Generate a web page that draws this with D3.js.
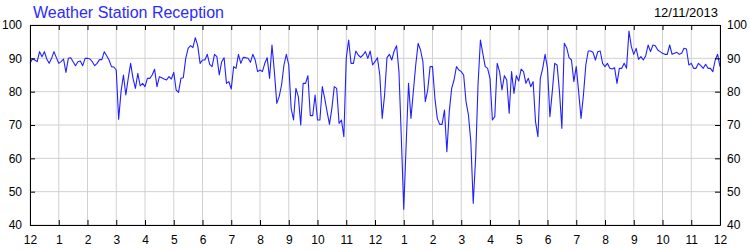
<!DOCTYPE html>
<html>
<head>
<meta charset="utf-8">
<script src="https://cdn.jsdelivr.net/npm/d3@7"></script>
<style>
	body { margin: 0; background: #fff; }
	text { font-family: "Liberation Sans", Arial, sans-serif; }
</style>
</head>
<body>
<svg id="chart" width="750" height="250"></svg>
<script>
const chartTitle = "Weather Station Reception";
const dateLabel = "12/11/2013";
const startTime = new Date(2013, 11, 11, 0, 0);
const endTime = new Date(2013, 11, 12, 0, 0);
const sampleMinutes = 5;
const yTicks = [40, 50, 60, 70, 80, 90, 100];

// reception %, one reading every 5 minutes from midnight to midnight
const reception = [
	88.5, 89.8, 89.5, 89, 92, 90.5, 92, 89.8, 88.5, 90, 92, 90.2,
	88.5, 89, 89.8, 85.8, 90, 90.2, 89, 87.8, 89, 89.2, 87.8, 90,
	90, 89.8, 89, 87.8, 88.5, 89.6, 89.6, 92, 90.8, 89.5, 87.5, 87.4,
	86.5, 71.7, 80, 85, 79, 84, 88.5, 84, 81, 85.5, 81.7, 82.5,
	81.5, 84, 84, 85, 86.7, 81.5, 84.5, 84.2, 83.8, 83.5, 84.5, 83.8,
	85.8, 80.5, 79.8, 84, 84.2, 90, 93, 93.8, 93.2, 96.2, 93.8, 88.5,
	89.5, 89.5, 91.2, 88.2, 87.5, 91.2, 90.5, 85, 89, 90.2, 82.5, 83,
	80.8, 87.5, 87, 91.2, 88.5, 90.3, 90.2, 90, 88.8, 91.2, 89.5, 86,
	86.5, 86, 88.5, 90.2, 84, 94, 86, 76.5, 78.5, 82, 88, 91.2,
	88, 75, 71.5, 81, 78.5, 70, 82.5, 82.5, 84.8, 72.8, 72.8, 79,
	71.5, 71.5, 81.5, 78, 74, 70.2, 75, 81.5, 81, 70.5, 71.5, 66.5,
	90, 95.5, 88.5, 88.5, 92.2, 91, 90.3, 91, 92, 90, 92.2, 88,
	89, 90.2, 85, 72, 79, 90.2, 91.2, 89.5, 92.2, 93.8, 86, 66,
	44.7, 64, 82.5, 72, 80, 88, 94.5, 92.5, 89, 77, 80.5, 87.5,
	87.5, 78, 72, 70.2, 70.2, 74.5, 62, 74, 81, 83.5, 87.5, 86.5,
	86, 85, 77, 73, 65, 46.5, 60, 82, 95.5, 91.5, 87.5, 87,
	84, 71.5, 72.5, 88.5, 86, 80.5, 84.8, 83.5, 73.5, 86, 79.5, 84.8,
	83.2, 86.8, 86, 82.5, 84, 81.5, 83, 71, 66.5, 84, 87, 91.2,
	87, 72.5, 80, 88.5, 88, 80, 69, 94.5, 93.2, 90.2, 89.5, 83,
	87.5, 80, 72, 79, 88, 92.2, 92.2, 91.8, 89.5, 92, 92.2, 88.5,
	87.5, 88.5, 87, 86.8, 87.2, 82.5, 87, 87, 88.5, 87, 98.2, 93.5,
	91.2, 93, 89.7, 90.5, 89.5, 90.8, 94, 92, 94, 93.8, 92.5, 92,
	91.5, 91.2, 91.2, 94, 91.2, 91.5, 91.8, 91.2, 91.5, 93, 92.8, 88,
	88.5, 87, 87, 88.5, 87.8, 87, 88.2, 87, 87, 86, 89.5, 91.2,
	87.5
];

const margin = { top: 25, right: 30, bottom: 25, left: 30 };
const width = 750;
const height = 250;

const svg = d3.select("#chart");

const x = d3.scaleTime()
	.domain([startTime, endTime])
	.range([margin.left, width - margin.right]);

const y = d3.scaleLinear()
	.domain([40, 100])
	.range([height - margin.bottom, margin.top]);

const hours = x.ticks(d3.timeHour.every(1));

function drawGrid(g) {
	g.selectAll(".vgrid")
		.data(hours)
		.enter()
		.append("line")
		.attr("class", "vgrid")
		.attr("x1", d => x(d))
		.attr("x2", d => x(d))
		.attr("y1", margin.top)
		.attr("y2", height - margin.bottom)
		.attr("stroke", "#d0d0d0")
		.attr("stroke-width", 1);

	g.selectAll(".hgrid")
		.data(yTicks)
		.enter()
		.append("line")
		.attr("class", "hgrid")
		.attr("x1", margin.left)
		.attr("x2", width - margin.right)
		.attr("y1", d => y(d))
		.attr("y2", d => y(d))
		.attr("stroke", "#d0d0d0")
		.attr("stroke-width", 1);
}

function styleAxis(g) {
	g.selectAll("path, line").attr("stroke", "#000");
	g.selectAll("text")
		.attr("fill", "#000")
		.style("font-size", "12px")
		.style("font-family", "'Liberation Sans', Arial, sans-serif");
}

function drawAxes() {
	svg.append("g")
		.attr("transform", `translate(0, ${height - margin.bottom})`)
		.call(d3.axisBottom(x)
			.tickValues(hours)
			.tickFormat(d3.timeFormat("%-I"))
			.tickSizeInner(-5)
			.tickSizeOuter(0)
			.tickPadding(10))
		.call(styleAxis);

	svg.append("g")
		.attr("transform", `translate(0, ${margin.top})`)
		.call(d3.axisTop(x)
			.tickValues(hours)
			.tickFormat("")
			.tickSizeInner(-5)
			.tickSizeOuter(0))
		.call(styleAxis);

	svg.append("g")
		.attr("transform", `translate(${margin.left}, 0)`)
		.call(d3.axisLeft(y)
			.tickValues(yTicks)
			.tickSizeInner(-5)
			.tickSizeOuter(0)
			.tickPadding(8))
		.call(styleAxis);

	svg.append("g")
		.attr("transform", `translate(${width - margin.right}, 0)`)
		.call(d3.axisRight(y)
			.tickValues(yTicks)
			.tickSizeInner(-5)
			.tickSizeOuter(0)
			.tickPadding(7))
		.call(styleAxis);
}

function drawLine() {
	const line = d3.line()
		.x((_, i) => x(d3.timeMinute.offset(startTime, i * sampleMinutes)))
		.y(d => y(d));

	svg.append("path")
		.datum(reception)
		.attr("d", line)
		.attr("fill", "none")
		.attr("stroke", "#2020ff")
		.attr("stroke-width", 1.1)
		.attr("stroke-linejoin", "round");
}

drawGrid(svg.append("g").attr("class", "grid"));
drawLine();
drawAxes();

svg.append("text")
	.attr("x", 33)
	.attr("y", 17.5)
	.attr("fill", "#2b2bff")
	.style("font-size", "16px")
	.text(chartTitle);

svg.append("text")
	.attr("x", 718)
	.attr("y", 17)
	.attr("text-anchor", "end")
	.attr("fill", "#000")
	.style("font-size", "13px")
	.text(dateLabel);
</script>
</body>
</html>
